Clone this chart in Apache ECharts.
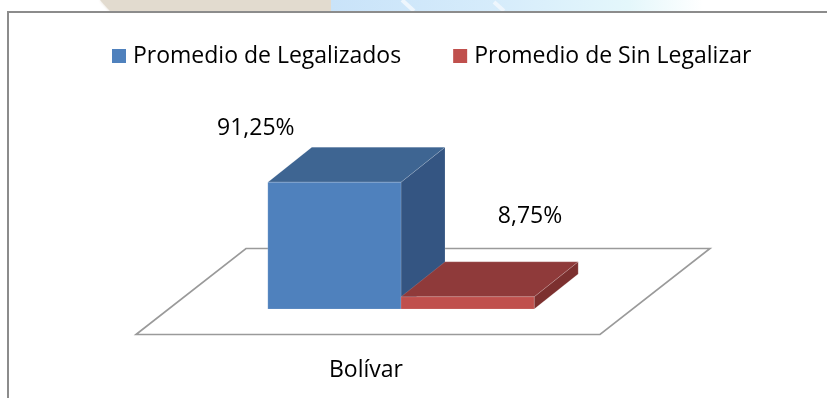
<!DOCTYPE html>
<html>
<head>
<meta charset="utf-8">
<title>Bolívar</title>
<script src="https://cdn.jsdelivr.net/npm/echarts@6/dist/echarts.min.js"></script>
<style>
  html, body { margin: 0; padding: 0; background: #ffffff; }
  #chart { width: 827px; height: 398px; }
</style>
</head>
<body>
<div id="chart"></div>
<script>
// Chart data
const categories = ['Bolívar'];
const seriesNames = ['Promedio de Legalizados', 'Promedio de Sin Legalizar'];
const legalizados = [91.25];
const sinLegalizar = [8.75];

// Rendering constants (pixels)
const FONT = '"Open Sans", Lato, sans-serif';
const FONT_SIZE = 23;
const DEPTH = [44, -35];          // depth vector of each 3D bar
const FLOOR_DEPTH = [110, -86];   // depth vector of the floor plate
const BAR_FRAC = 0.287;           // share of the category band taken by one bar

const BLUE = { front: '#4f81bd', top: '#3e6592', side: '#345582' };
const RED = { front: '#c0504d', top: '#8f3a3a', side: '#7c302f' };

const fmtPct = v => v.toFixed(2).replace('.', ',') + '%';

// One 3D column: front face, side face, top face and a value label
function bar3D(slot, colors, labelOffset) {
  return function (params, api) {
    const cat = api.value(0);
    const val = api.value(1);
    const base = api.coord([cat, 0]);
    const top = api.coord([cat, val]);
    const band = api.size([1, 0])[0];
    const w = band * BAR_FRAC;
    const x0 = base[0] + (slot === 0 ? -w : 0);
    const x1 = x0 + w;
    const yb = base[1];
    const yt = top[1];
    const dx = DEPTH[0], dy = DEPTH[1];
    const edge = { stroke: 'rgba(255,255,255,0.18)', lineWidth: 0.8 };
    return {
      type: 'group',
      children: [
        {
          type: 'polygon',
          shape: { points: [[x1, yt], [x1 + dx, yt + dy], [x1 + dx, yb + dy], [x1, yb]] },
          style: Object.assign({ fill: colors.side }, edge)
        },
        {
          type: 'polygon',
          shape: { points: [[x0, yt], [x0 + dx, yt + dy], [x1 + dx, yt + dy], [x1, yt]] },
          style: Object.assign({ fill: colors.top }, edge)
        },
        {
          type: 'rect',
          shape: { x: x0, y: yt, width: w, height: yb - yt },
          style: Object.assign({ fill: colors.front }, edge)
        },
        {
          type: 'text',
          x: x0 + labelOffset[0],
          y: yt + labelOffset[1],
          style: {
            text: fmtPct(val),
            fill: '#000000',
            font: FONT_SIZE + 'px ' + FONT,
            align: 'center',
            verticalAlign: 'middle'
          }
        }
      ]
    };
  };
}

// Floor plate under the columns, plus the category name in front of it
function floorItem(params, api) {
  const cat = api.value(0);
  const base = api.coord([cat, 0]);
  const band = api.size([1, 0])[0];
  const mx = base[0] + DEPTH[0] / 2;
  const my = base[1] + DEPTH[1] / 2;
  const fx = FLOOR_DEPTH[0] / 2, fy = FLOOR_DEPTH[1] / 2;
  const hw = band / 2;
  const pts = [
    [mx - hw - fx, my - fy],
    [mx - hw + fx, my + fy],
    [mx + hw + fx, my + fy],
    [mx + hw - fx, my - fy]
  ];
  return {
    type: 'group',
    children: [
      {
        type: 'polygon',
        shape: { points: pts },
        style: { fill: '#ffffff', stroke: '#9a9a9a', lineWidth: 1.6 }
      },
      {
        type: 'text',
        x: mx - fx - 2,
        y: my - fy + 36,
        style: {
          text: categories[cat],
          fill: '#000000',
          font: FONT_SIZE + 'px ' + FONT,
          align: 'center',
          verticalAlign: 'middle'
        }
      }
    ]
  };
}

const chart = echarts.init(document.getElementById('chart'), null, { renderer: 'canvas' });

chart.setOption({
  backgroundColor: '#ffffff',
  animation: false,
  graphic: [
    // faded letterhead strip above the frame
    {
      type: 'polygon', z: -10, silent: true,
      shape: { points: [[100, 0], [331, 0], [331, 11], [110, 11]] },
      style: { fill: '#e2dbcf', shadowBlur: 3, shadowColor: '#e2dbcf' }
    },
    {
      type: 'rect', z: -10, silent: true,
      shape: { x: 331, y: 0, width: 372, height: 11 },
      style: {
        fill: new echarts.graphic.LinearGradient(0, 0, 1, 0, [
          { offset: 0, color: '#c9e3f9' },
          { offset: 0.45, color: '#d6ecfb' },
          { offset: 0.8, color: '#e4f7fb' },
          { offset: 1, color: '#ffffff' }
        ])
      }
    },
    {
      type: 'polyline', z: -9, silent: true,
      shape: { points: [[402, 0], [414, 11]] },
      style: { stroke: '#eef6fd', lineWidth: 4 }
    },
    {
      type: 'polyline', z: -9, silent: true,
      shape: { points: [[494, 2], [504, 11]] },
      style: { stroke: '#eef6fd', lineWidth: 4 }
    },
    // chart frame
    {
      type: 'rect', z: 100, silent: true,
      shape: { x: 8, y: 12, width: 900, height: 500 },
      style: { fill: 'none', stroke: '#8c8c8c', lineWidth: 2 }
    }
  ],
  legend: {
    top: 43,
    left: 112,
    padding: 0,
    itemWidth: 14,
    itemHeight: 14,
    itemGap: 52,
    icon: 'rect',
    data: seriesNames,
    textStyle: {
      fontFamily: FONT,
      fontSize: FONT_SIZE,
      color: '#000000',
      lineHeight: 26,
      padding: [0, 0, 0, 2]
    }
  },
  grid: { left: 169, right: 194, top: 170, bottom: 89 },
  xAxis: {
    type: 'category',
    data: categories,
    show: false
  },
  yAxis: {
    type: 'value',
    min: 0,
    max: 100,
    show: false
  },
  series: [
    {
      name: 'floor',
      type: 'custom',
      silent: true,
      renderItem: floorItem,
      data: categories.map((c, i) => [i]),
      z: 1
    },
    {
      name: seriesNames[0],
      type: 'custom',
      itemStyle: { color: BLUE.front },
      renderItem: bar3D(0, BLUE, [-12, -54]),
      data: legalizados.map((v, i) => [i, v]),
      z: 2
    },
    {
      name: seriesNames[1],
      type: 'custom',
      itemStyle: { color: RED.front },
      renderItem: bar3D(1, RED, [129, -80]),
      data: sinLegalizar.map((v, i) => [i, v]),
      z: 3
    }
  ]
});
</script>
</body>
</html>
